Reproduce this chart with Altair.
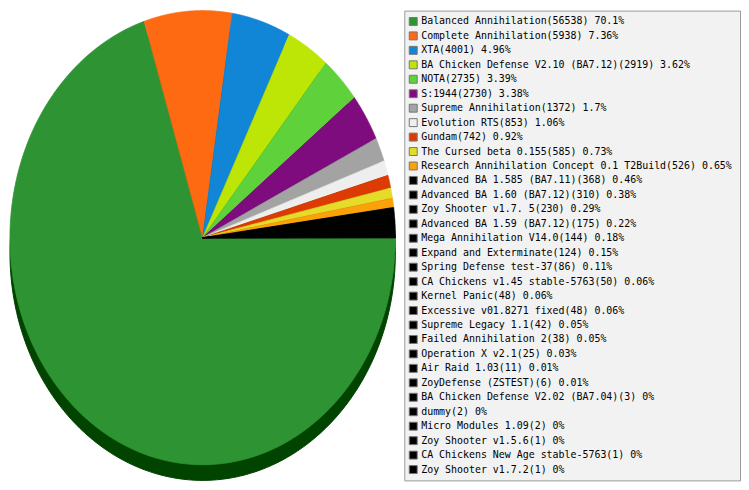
import altair as alt
import pandas as pd

names = [
    "Balanced Annihilation", "Complete Annihilation", "XTA",
    "BA Chicken Defense V2.10 (BA7.12)", "NOTA", "S:1944",
    "Supreme Annihilation", "Evolution RTS", "Gundam", "The Cursed beta 0.155",
    "Research Annihilation Concept 0.1 T2Build", "Advanced BA 1.585 (BA7.11)",
    "Advanced BA 1.60 (BA7.12)", "Zoy Shooter v1.7. 5", "Advanced BA 1.59 (BA7.12)",
    "Mega Annihilation V14.0", "Expand and Exterminate", "Spring Defense test-37",
    "CA Chickens v1.45 stable-5763", "Kernel Panic", "Excessive v01.8271 fixed",
    "Supreme Legacy 1.1", "Failed Annihilation 2", "Operation X v2.1", "Air Raid 1.03",
    "ZoyDefense (ZSTEST)", "BA Chicken Defense V2.02 (BA7.04)", "dummy",
    "Micro Modules 1.09", "Zoy Shooter v1.5.6", "CA Chickens New Age stable-5763",
    "Zoy Shooter v1.7.2",
]
values = [56538, 5938, 4001, 2919, 2735, 2730, 1372, 853, 742, 585, 526, 368, 310,
          230, 175, 144, 124, 86, 50, 48, 48, 42, 38, 25, 11, 6, 3, 2, 2, 1, 1, 1]
percents = ["70.1", "7.36", "4.96", "3.62", "3.39", "3.38", "1.7", "1.06", "0.92",
            "0.73", "0.65", "0.46", "0.38", "0.29", "0.22", "0.18", "0.15", "0.11",
            "0.06", "0.06", "0.06", "0.05", "0.05", "0.03", "0.01", "0.01", "0", "0",
            "0", "0", "0", "0"]
colors = ["#2e9433", "#fd6a12", "#1185d6", "#bde607", "#5fd23b", "#7e0c7e",
          "#a3a3a3", "#eeeeee", "#dc3b04", "#e4dc28", "#fba20b"] + ["#000000"] * 21

N = 150
DEPTH = 0.069

df = pd.DataFrame({"name": names, "value": values, "pct": percents,
                   "idx": list(range(len(names)))})

color_scale = alt.Scale(domain=names, range=colors)
xs = alt.Scale(domain=[-1, 1], nice=False, zero=False)
ys = alt.Scale(domain=[-1 - DEPTH, 1], nice=False, zero=False)

base = (
    alt.Chart(df)
    .transform_joinaggregate(total="sum(value)")
    .transform_window(cum="sum(value)", sort=[alt.SortField("idx")], frame=[None, 0])
    .transform_calculate(
        a0="2*PI*(datum.cum - datum.value)/datum.total",
        a1="2*PI*datum.cum/datum.total",
        k=f"sequence(0, {N + 2})",
    )
    .transform_flatten(["k"])
    .transform_calculate(
        ang=f"datum.a0 + (datum.a1 - datum.a0)*(datum.k - 1)/{N}",
        px="datum.k == 0 ? 0 : cos(datum.ang)",
        py="datum.k == 0 ? 0 : -sin(datum.ang)",
        pys=f"(datum.k == 0 ? 0 : -sin(datum.ang)) - {DEPTH}",
    )
)

shadow = base.mark_line(filled=True, interpolate="linear", strokeWidth=1).encode(
    x=alt.X("px:Q", scale=xs, axis=None),
    y=alt.Y("pys:Q", scale=ys, axis=None),
    order="k:Q",
    detail="name:N",
    fill=alt.value("#004400"),
    stroke=alt.value("#004400"),
)

top = base.mark_line(filled=True, interpolate="linear", strokeWidth=0.8, strokeJoin="round").encode(
    x=alt.X("px:Q", scale=xs, axis=None),
    y=alt.Y("py:Q", scale=ys, axis=None),
    order="k:Q",
    detail="name:N",
    fill=alt.Fill("name:N", scale=color_scale, legend=None),
    stroke=alt.Stroke("name:N", scale=color_scale, legend=None),
)

pie = alt.layer(shadow, top).properties(width=388, height=473)

leg_base = alt.Chart(df).transform_calculate(
    label="datum.name + '(' + datum.value + ') ' + datum.pct + '%'"
)
ly = alt.Y("name:N", sort=names, scale=alt.Scale(type="point", padding=0.75), axis=None)

squares = leg_base.mark_square(size=64, stroke="#777777", strokeWidth=1, opacity=1).encode(
    x=alt.value(9),
    y=ly,
    fill=alt.Fill("name:N", scale=color_scale, legend=None),
)
texts = leg_base.mark_text(align="left", baseline="middle", font="DejaVu Sans Mono",
                           fontSize=10, color="#000000").encode(
    x=alt.value(17),
    y=ly,
    text="label:N",
)
legend = alt.layer(squares, texts).properties(
    width=338, height=473,
    view=alt.ViewBackground(fill="#f2f2f2", stroke="#999999", strokeWidth=1),
)

chart = (
    alt.hconcat(pie, legend, spacing=6)
    .properties(padding=0, background="white")
    .configure_view(stroke=None)
)

chart.save("out.html", embed_options={"renderer": "svg", "actions": False})
